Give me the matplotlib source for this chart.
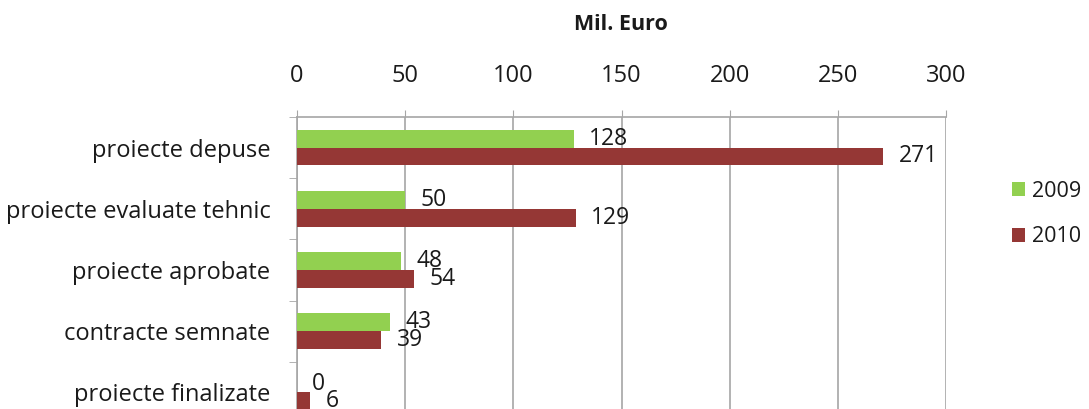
import numpy as np
import matplotlib.pyplot as plt
from matplotlib.ticker import FixedLocator

# Values (Mil. Euro)
categories = ['proiecte depuse', 'proiecte evaluate tehnic', 'proiecte aprobate',
              'contracte semnate', 'proiecte finalizate']
values_2009 = [128, 50, 48, 43, 0]
values_2010 = [271, 129, 54, 39, 6]
series_names = ['2009', '2010']
x_ticks = [0, 50, 100, 150, 200, 250, 300]

green = '#92D050'
red = '#953735'
grid_grey = '#A6A6A6'
txt = '#1A1A1A'

plt.rcParams['font.family'] = ['Open Sans', 'DejaVu Sans']

fig = plt.figure(figsize=(10.89, 4.09), dpi=100)
# plot area extends below the bottom edge like the cropped original
ax = fig.add_axes([297/1089, (409-423)/409, 649/1089, (423-117)/409])

y = np.arange(len(categories))
h = 0.29
bars09 = ax.barh(y - h/2, values_2009, height=h, color=green, label=series_names[0], zorder=3)
bars10 = ax.barh(y + h/2, values_2010, height=h, color=red, label=series_names[1], zorder=3)

for bars in (bars09, bars10):
    for b in bars:
        w = b.get_width()
        ax.annotate(str(int(w)), (w, b.get_y() + b.get_height()/2),
                    xytext=(11, 0), textcoords='offset points',
                    va='center', ha='left', fontsize=16.5, color=txt, zorder=4)

ax.set_xlim(0, 300)
ax.set_ylim(len(categories) - 0.5, -0.5)
ax.xaxis.tick_top()
ax.set_xticks(x_ticks)
ax.set_xticklabels([str(t) for t in x_ticks])
ax.tick_params(axis='x', direction='out', length=5, color=grid_grey, pad=16,
               labelsize=17, labelcolor=txt)

ax.set_yticks(y)
ax.set_yticklabels(categories)
ax.yaxis.set_minor_locator(FixedLocator(np.arange(-0.5, len(categories), 1.0)))
ax.tick_params(axis='y', which='major', length=0, pad=19, labelsize=17, labelcolor=txt)
ax.tick_params(axis='y', which='minor', length=6, color=grid_grey)

ax.grid(axis='x', color=grid_grey, linewidth=1.2, zorder=0)
for s in ['right', 'bottom']:
    ax.spines[s].set_visible(False)
ax.spines['top'].set_color(grid_grey)
ax.spines['left'].set_color(grid_grey)
ax.spines['top'].set_linewidth(1.2)
ax.spines['left'].set_linewidth(1.2)

fig.text(621/1089, 1 - 25/409, 'Mil. Euro', ha='center', va='center',
         fontsize=15.5, fontweight='bold', color=txt)

fig.legend(loc='center left', bbox_to_anchor=(1012/1089, 1 - 214/409), frameon=False,
           fontsize=15.5, handlelength=0.6, handleheight=0.6, handletextpad=0.35,
           labelspacing=1.15, borderpad=0, borderaxespad=0, labelcolor=txt)

fig.savefig('out.png', dpi=100)
